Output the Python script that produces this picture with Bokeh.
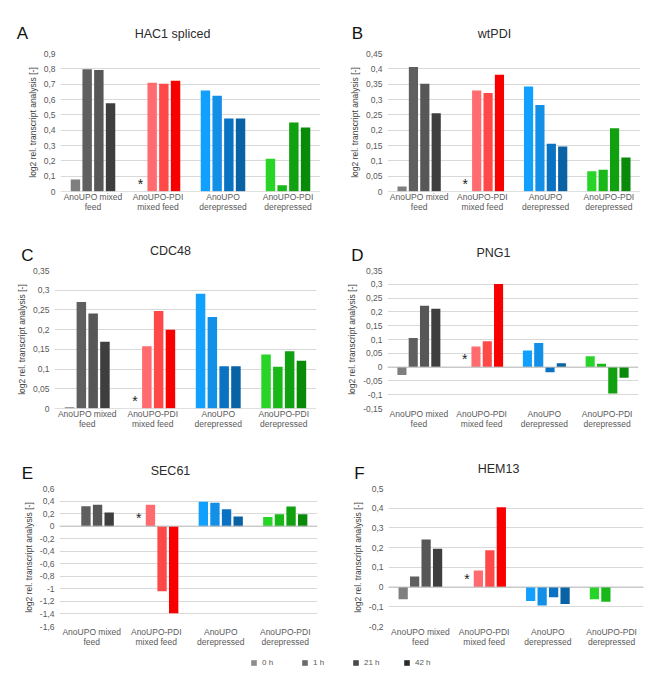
from bokeh.plotting import figure
from bokeh.models import (ColumnDataSource, FactorRange, Range1d, FixedTicker, Span, Spacer,
                          Legend, LegendItem, CustomJSTickFormatter)
from bokeh.transform import dodge
from bokeh.layouts import column, row
from bokeh.core.properties import value
from bokeh.embed import file_html
from bokeh.resources import INLINE

# ---------------- data ----------------
groups = ["AnoUPO mixed\nfeed", "AnoUPO-PDI\nmixed feed", "AnoUPO\nderepressed", "AnoUPO-PDI\nderepressed"]
times = ["0 h", "1 h", "21 h", "42 h"]
asterisk_group = "AnoUPO-PDI\nmixed feed"

# HAC1 spliced (A)
hac1_0h = [0.078, None, 0.659, 0.213]
hac1_1h = [0.798, 0.709, 0.624, 0.041]
hac1_21h = [0.793, 0.702, 0.476, 0.450]
hac1_42h = [0.575, 0.722, 0.476, 0.417]
hac1_ticks = [0, 0.1, 0.2, 0.3, 0.4, 0.5, 0.6, 0.7, 0.8, 0.9]

# wtPDI (B)
wtpdi_0h = [0.016, None, 0.342, 0.066]
wtpdi_1h = [0.406, 0.329, 0.282, 0.071]
wtpdi_21h = [0.351, 0.321, 0.156, 0.206]
wtpdi_42h = [0.255, 0.381, 0.147, 0.111]
wtpdi_ticks = [0, 0.05, 0.1, 0.15, 0.2, 0.25, 0.3, 0.35, 0.4, 0.45]

# CDC48 (C)
cdc48_0h = [0.003, None, 0.291, 0.137]
cdc48_1h = [0.270, 0.158, 0.232, 0.106]
cdc48_21h = [0.241, 0.247, 0.107, 0.145]
cdc48_42h = [0.169, 0.200, 0.107, 0.121]
cdc48_ticks = [0, 0.05, 0.1, 0.15, 0.2, 0.25, 0.3, 0.35]

# PNG1 (D)
png1_0h = [-0.029, None, 0.060, 0.039]
png1_1h = [0.105, 0.075, 0.087, 0.012]
png1_21h = [0.222, 0.094, -0.019, -0.096]
png1_42h = [0.211, 0.301, 0.014, -0.039]
png1_ticks = [-0.15, -0.1, -0.05, 0, 0.05, 0.1, 0.15, 0.2, 0.25, 0.3, 0.35]

# SEC61 (E)
sec61_0h = [None, None, 0.388, 0.144]
sec61_1h = [0.319, 0.340, 0.372, 0.191]
sec61_21h = [0.340, -1.04, 0.271, 0.314]
sec61_42h = [0.218, -1.39, 0.154, 0.191]
sec61_ticks = [-1.6, -1.4, -1.2, -1.0, -0.8, -0.6, -0.4, -0.2, 0, 0.2, 0.4, 0.6]

# HEM13 (F)
hem13_0h = [-0.062, None, -0.071, -0.062]
hem13_1h = [0.054, 0.084, -0.093, -0.074]
hem13_21h = [0.241, 0.187, -0.051, None]
hem13_42h = [0.194, 0.405, -0.086, None]
hem13_ticks = [-0.2, -0.1, 0, 0.1, 0.2, 0.3, 0.4, 0.5]

# ---------------- styles ----------------
grey = ["#7f7f7f", "#5f5f5f", "#575757", "#3e3e3e"]
red = ["#ff8a8a", "#ff6b6e", "#ff4848", "#f80000"]
blue = ["#12a0ff", "#1290e8", "#0a72c2", "#0862a4"]
green = ["#28d428", "#18b818", "#10a010", "#098a09"]
palettes = [grey, red, blue, green]
legend_colors = ["#8c8c8c", "#6a6a6a", "#4a4a4a", "#2a2a2a"]
offsets = [-0.27, -0.09, 0.09, 0.27]
BAR_W = 0.145
FONT = "Liberation Sans"
SMALL = "8.5px"

fmt = CustomJSTickFormatter(code="""
const v = Math.round(tick * 1000) / 1000;
return (v === 0 ? "0" : v.toString()).replace(".", ",");
""")


def header(W, H, letter, let_xy, title, tit_xy):
    h = figure(width=W, height=H, x_range=Range1d(0, W), y_range=Range1d(H, 0),
               toolbar_location=None, output_backend="svg", min_border=0,
               x_axis_location=None, y_axis_location=None, title=None)
    h.outline_line_color = None
    h.grid.visible = False
    h.text(x=[let_xy[0]], y=[let_xy[1]], text=[letter], text_font=value(FONT),
           text_font_size="17px", text_color="#111111", text_align="center",
           text_baseline="middle")
    h.text(x=[tit_xy[0]], y=[tit_xy[1]], text=[title], text_font=value(FONT),
           text_font_size="12.5px", text_color="#2b2b2b", text_align="center",
           text_baseline="middle")
    return h


def chart(series, ticks, W, H, right, top, bottom):
    p = figure(width=W, height=H, x_range=FactorRange(*groups, range_padding=0),
               y_range=Range1d(ticks[0], ticks[-1]), toolbar_location=None,
               output_backend="svg", min_border_left=0, min_border_right=right,
               min_border_top=top, min_border_bottom=bottom, title=None)
    p.outline_line_color = None
    p.xgrid.grid_line_color = None
    p.ygrid.grid_line_color = "#d9d9d9"
    for ax in (p.xaxis[0], p.yaxis[0]):
        ax.axis_line_color = None
        ax.major_tick_line_color = None
        ax.minor_tick_line_color = None
        ax.major_tick_out = 0
        ax.major_tick_in = 0
        ax.minor_tick_out = 0
        ax.minor_tick_in = 0
        ax.major_label_text_font = FONT
        ax.major_label_text_font_size = SMALL
        ax.major_label_text_color = "#595959"
    p.yaxis.ticker = FixedTicker(ticks=ticks)
    p.yaxis.formatter = fmt
    p.yaxis.major_label_standoff = 5
    p.yaxis.axis_label = "log2 rel. transcript analysis [-]"
    p.yaxis.axis_label_text_font = FONT
    p.yaxis.axis_label_text_font_size = SMALL
    p.yaxis.axis_label_text_font_style = "normal"
    p.yaxis.axis_label_text_color = "#404040"
    p.yaxis.axis_label_standoff = 3
    p.xaxis.major_label_text_line_height = 1.0
    p.xaxis.major_label_standoff = 0
    p.add_layout(Span(location=0, dimension="width", line_color="#bfbfbf", line_width=1))

    for ti, vals in enumerate(series):
        xs = [g for g, v in zip(groups, vals) if v is not None]
        ys = [v for v in vals if v is not None]
        cs = [palettes[gi][ti] for gi, v in enumerate(vals) if v is not None]
        src = ColumnDataSource(dict(x=xs, top=ys, color=cs))
        p.vbar(x=dodge("x", offsets[ti], range=p.x_range), top="top", bottom=0,
               width=BAR_W, fill_color="color", line_color=None, source=src)

    ast = ColumnDataSource(dict(x=[asterisk_group], y=[0], t=["*"]))
    p.text(x=dodge("x", offsets[0], range=p.x_range), y="y", text="t", source=ast,
           text_font=value(FONT), text_font_size="14px", text_color="#222222",
           text_align="center", text_baseline="bottom")
    return p


def panel(title, letter, series, ticks, W, head_h, let_xy, tit_xy, pad, chart_h, right, top, bottom):
    h = header(W, head_h, letter, let_xy, title, tit_xy)
    c = chart(series, ticks, W - pad, chart_h, right, top, bottom)
    return column(h, row(Spacer(width=pad, height=chart_h), c))


pA = panel("HAC1 spliced", "A", [hac1_0h, hac1_1h, hac1_21h, hac1_42h], hac1_ticks,
           335, 45, (22, 33), (172, 33), 24, 183, 15, 8, 37)
pB = panel("wtPDI", "B", [wtpdi_0h, wtpdi_1h, wtpdi_21h, wtpdi_42h], wtpdi_ticks,
           318, 45, (22, 33), (159, 33), 11, 183, 13, 8, 37)
pC = panel("CDC48", "C", [cdc48_0h, cdc48_1h, cdc48_21h, cdc48_42h], cdc48_ticks,
           335, 36, (27, 27), (170, 22), 13, 186, 19, 6, 42)
pD = panel("PNG1", "D", [png1_0h, png1_1h, png1_21h, png1_42h], png1_ticks,
           318, 36, (22, 27), (158, 24), 9, 186, 15, 6, 42)
pE = panel("SEC61", "E", [sec61_0h, sec61_1h, sec61_21h, sec61_42h], sec61_ticks,
           335, 32, (27, 23), (170, 20), 20, 172, 18, 6, 28)
pF = panel("HEM13", "F", [hem13_0h, hem13_1h, hem13_21h, hem13_42h], hem13_ticks,
           318, 32, (24, 23), (163, 18), 14, 172, 10, 6, 28)

# legend strip
leg = figure(width=653, height=14, toolbar_location=None, output_backend="svg",
             x_range=Range1d(0, 1), y_range=Range1d(0, 1), min_border=0,
             x_axis_location=None, y_axis_location=None, title=None)
leg.outline_line_color = None
leg.grid.visible = False
items = []
for t, c in zip(times, legend_colors):
    r = leg.rect(x="x", y="y", width=0.01, height=0.1, fill_color=c, line_color=None,
                 source=ColumnDataSource(dict(x=[-5], y=[-5])))
    items.append(LegendItem(label=t, renderers=[r]))
lg = Legend(items=items, orientation="horizontal", location=(250, 1), padding=0, margin=0,
            spacing=19, glyph_width=7, glyph_height=7, label_height=10, label_standoff=5,
            label_text_font=FONT, label_text_font_size="8px", label_text_color="#595959",
            border_line_color=None, background_fill_alpha=0)
leg.add_layout(lg)

layout = column(row(pA, pB), row(pC, pD), row(pE, pF), leg)
open("out.html", "w").write(file_html(layout, INLINE))
